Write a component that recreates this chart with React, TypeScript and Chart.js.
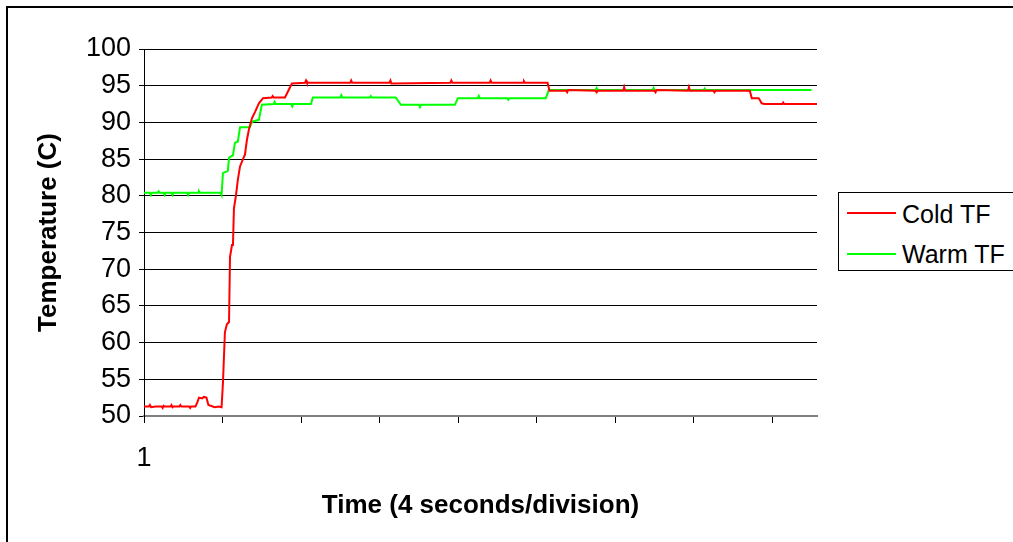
import React, { useEffect, useRef } from "react";
import { Chart, registerables } from "chart.js";

Chart.register(...registerables);

const seriesNames = ["Cold TF", "Warm TF"];
const seriesColors = ["#FF0000", "#00FF00"];

// time in seconds (4 s per division)
const coldTime = [
  0, 0.25, 0.3, 0.36, 0.6, 0.9, 0.95, 1.0, 1.05, 1.35, 1.4, 1.45, 1.5, 1.8, 1.85, 1.9, 2.3, 2.35, 2.4,
  2.62, 2.72, 2.8, 2.95, 3.05, 3.18, 3.28, 3.5, 3.6, 3.8, 3.95, 4.02, 4.12, 4.22, 4.33, 4.38, 4.48, 4.53,
  4.58, 4.68, 4.78, 4.89, 5.04, 5.14, 5.24, 5.34, 5.5, 5.65, 5.85, 6.06, 6.5, 6.55, 6.6, 7.18, 7.33, 7.53,
  8.2, 8.25, 8.3, 10.5, 10.55, 10.6, 12.5, 12.55, 12.6, 15.6, 15.65, 15.7, 17.6, 17.65, 17.7, 19.3, 19.35,
  19.4, 20.55, 20.65, 21.5, 21.55, 21.6, 23.0, 23.05, 23.1, 24.4, 24.45, 24.5, 26.0, 26.05, 26.1, 27.7,
  27.75, 27.8, 29.0, 29.05, 29.1, 30.85, 30.95, 31.3, 31.35, 31.45, 31.6, 32.5, 32.55, 32.6, 34.27,
];
const coldTemp = [
  51.3, 51.3, 51.5, 51.2, 51.3, 51.3, 51.1, 51.4, 51.3, 51.3, 51.5, 51.2, 51.3, 51.3, 51.5, 51.3, 51.3, 51.1, 51.3,
  51.3, 51.9, 52.5, 52.4, 52.6, 52.5, 51.5, 51.3, 51.2, 51.3, 51.2, 54.5, 61.4, 62.5, 62.8, 71.7, 73.3, 73.3,
  78.3, 80.0, 82.2, 84.0, 85.0, 85.6, 87.6, 89.0, 90.6, 91.4, 92.6, 93.3, 93.4, 93.6, 93.4, 93.4, 94.2, 95.3,
  95.4, 95.7, 95.4, 95.4, 95.7, 95.4, 95.4, 95.7, 95.3, 95.4, 95.7, 95.4, 95.4, 95.7, 95.4, 95.4, 95.6,
  95.4, 95.4, 94.3, 94.3, 94.1, 94.4, 94.3, 94.1, 94.3, 94.3, 94.8, 94.3, 94.3, 94.1, 94.4, 94.3,
  94.8, 94.3, 94.3, 94.1, 94.3, 94.3, 93.3, 93.3, 93.1, 92.6, 92.5, 92.5, 92.7, 92.5, 92.5,
];

const warmTime = [
  0, 0.3, 0.35, 0.4, 0.7, 0.75, 0.8, 1.0, 1.05, 1.1, 1.4, 1.45, 1.5, 2.2, 2.25, 2.3, 2.75, 2.8, 2.85, 3.9,
  3.95, 4.02, 4.27, 4.33, 4.53, 4.63, 4.78, 4.89, 5.39, 5.5, 5.85, 6.0, 6.6, 6.65, 6.7, 7.5, 7.55, 7.6,
  8.5, 8.6, 10.0, 10.05, 10.1, 11.5, 11.55, 11.6, 12.82, 13.08, 14.0, 14.05, 14.1, 15.83, 15.98, 17.0,
  17.05, 17.1, 18.5, 18.55, 18.6, 20.46, 20.61, 23.0, 23.05, 23.1, 25.9, 25.95, 26.0, 28.5, 28.55, 28.6,
  33.99,
];
const warmTemp = [
  80.4, 80.4, 80.1, 80.4, 80.4, 80.6, 80.4, 80.4, 80.1, 80.4, 80.4, 80.1, 80.4, 80.4, 80.1, 80.4, 80.4, 80.6, 80.4, 80.4,
  80.1, 83.1, 83.4, 85.2, 85.5, 87.2, 87.4, 89.35, 89.35, 90.1, 90.35, 92.4, 92.5, 92.8, 92.5, 92.5, 92.2, 92.5,
  92.5, 93.4, 93.4, 93.7, 93.4, 93.4, 93.6, 93.4, 93.4, 92.4, 92.4, 92.1, 92.4, 92.4, 93.3, 93.3,
  93.6, 93.3, 93.3, 93.1, 93.3, 93.3, 94.4, 94.4, 94.7, 94.4, 94.4, 94.7, 94.4, 94.4, 94.6, 94.4,
  94.4,
];

const yMin = 50;
const yMax = 100;
const yStep = 5;
const xMin = 0;
const xMax = 34.27;
const xStep = 4;
const xFirstTickLabel = "1";
const xTitle = "Time (4 seconds/division)";
const yTitle = "Temperature (C)";

const FONT = "'Liberation Sans', Arial, Helvetica, sans-serif";

export default function App() {
  const ref = useRef<HTMLCanvasElement>(null);

  useEffect(() => {
    document.body.style.margin = "0";
    document.body.style.overflow = "hidden";
    const canvas = ref.current;
    if (!canvas) return;
    const chart = new Chart(canvas, {
      type: "line",
      data: {
        datasets: [
          {
            label: seriesNames[0],
            data: coldTime.map((x, i) => ({ x, y: coldTemp[i] })),
            borderColor: seriesColors[0],
            backgroundColor: seriesColors[0],
            borderWidth: 2,
            pointRadius: 0,
            tension: 0,
            fill: false,
          },
          {
            label: seriesNames[1],
            data: warmTime.map((x, i) => ({ x, y: warmTemp[i] })),
            borderColor: seriesColors[1],
            backgroundColor: seriesColors[1],
            borderWidth: 2,
            pointRadius: 0,
            tension: 0,
            fill: false,
          },
        ],
      },
      options: {
        responsive: false,
        animation: false,
        layout: { padding: { left: 10, top: 49, right: 196, bottom: 0 } },
        plugins: { legend: { display: false }, tooltip: { enabled: false } },
        scales: {
          x: {
            type: "linear",
            min: xMin,
            max: xMax,
            afterFit: (s: any) => {
              s.height = 126;
            },
            ticks: {
              stepSize: xStep,
              includeBounds: false,
              autoSkip: false,
              maxRotation: 0,
              callback: (v: any) => (v === 0 ? xFirstTickLabel : ""),
              font: { family: FONT, size: 27 },
              color: "#000",
              padding: 19,
            },
            grid: {
              drawOnChartArea: false,
              drawTicks: true,
              tickLength: 7,
              color: "#000",
              lineWidth: 1,
            },
            border: { color: "#808080", width: 2 },
            title: {
              display: true,
              text: xTitle,
              font: { family: FONT, size: 26, weight: "bold" },
              color: "#000",
              padding: { top: 0, bottom: 21 },
            },
          },
          y: {
            min: yMin,
            max: yMax,
            afterFit: (s: any) => {
              s.width = 134;
            },
            ticks: {
              stepSize: yStep,
              font: { family: FONT, size: 27 },
              color: "#000",
              padding: 8,
            },
            grid: {
              color: (ctx: any) => (ctx.tick && ctx.tick.value === yMin ? "rgba(0,0,0,0)" : "#000"),
              tickColor: "#000",
              lineWidth: 1,
              tickLength: 5,
            },
            border: { color: "#000", width: 1 },
            title: {
              display: true,
              text: yTitle,
              font: { family: FONT, size: 26, weight: "bold" },
              color: "#000",
              padding: { top: 23, bottom: 0 },
            },
          },
        },
      },
    } as any);
    return () => chart.destroy();
  }, []);

  const textStyle: React.CSSProperties = {
    position: "absolute",
    left: 63,
    fontFamily: FONT,
    fontSize: 25,
    lineHeight: "25px",
    whiteSpace: "nowrap",
    color: "#000",
  };

  return (
    <div style={{ position: "relative", width: 1013, height: 542, overflow: "hidden", background: "#fff" }}>
      <div
        style={{
          position: "absolute",
          left: 6,
          top: 6,
          width: 1100,
          height: 700,
          border: "2px solid #000",
          boxSizing: "border-box",
        }}
      />
      <canvas ref={ref} width={1013} height={542} style={{ position: "absolute", left: 0, top: 0 }} />
      <div
        style={{
          position: "absolute",
          left: 838,
          top: 192,
          width: 220,
          height: 79,
          border: "1px solid #000",
          boxSizing: "border-box",
          background: "#fff",
        }}
      >
        <div style={{ position: "absolute", left: 8, top: 19, width: 49, height: 2, background: seriesColors[0] }} />
        <div style={{ ...textStyle, top: 9 }}>{seriesNames[0]}</div>
        <div style={{ position: "absolute", left: 8, top: 60, width: 49, height: 2, background: seriesColors[1] }} />
        <div style={{ ...textStyle, top: 49 }}>{seriesNames[1]}</div>
      </div>
    </div>
  );
}
